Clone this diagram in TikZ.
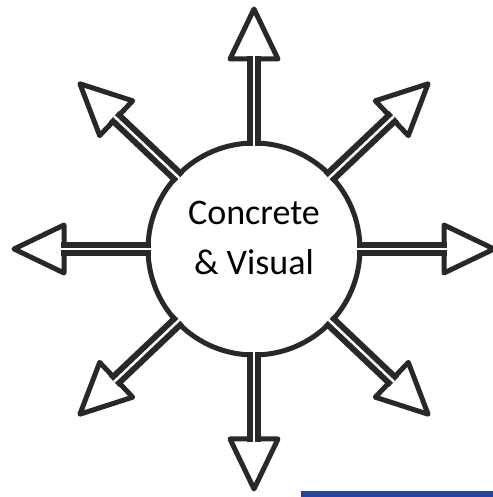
\documentclass[tikz,border=0pt]{standalone}
\usepackage{fontspec}
\setmainfont{Carlito}
\usetikzlibrary{calc}
\definecolor{barblue}{RGB}{35,68,158}
\definecolor{inkgray}{RGB}{40,40,40}

\begin{document}
\begin{tikzpicture}[x=0.02cm,y=0.02cm,
        hubcircle/.style={circle,draw=inkgray,line width=0.1cm,minimum size=4.24cm,
                          inner sep=0pt,outer sep=0pt},
        headline/.style={draw=inkgray,fill=white,line width=0.1cm,line join=round},
        shaftline/.style={draw=inkgray,line width=0.12cm,double,double distance=0.05cm,
                          shorten <=-0.06cm}]
  \useasboundingbox (0,0) rectangle (493,497);
  \node[hubcircle] (hub) at (254,248) {};
  \node[font=\fontsize{20.5}{28}\selectfont,align=center] (txt) at (254,259)
    {Concrete\\\& Visual};
  \foreach \a/\n in {0/e,43.5/ne,90/n,136.5/nw,180/w,223.5/sw,270/s,316.5/se} {
    \coordinate (tip\n) at ($(hub)+(\a:240)$);
    \coordinate (base\n) at ($(hub)+(\a:193)$);
    \coordinate (left\n) at ($(hub)+(\a:190)+(\a+90:24)$);
    \coordinate (right\n) at ($(hub)+(\a:190)+(\a-90:24)$);
    \draw[headline] (tip\n) -- (left\n) -- (right\n) -- cycle;
    \draw[shaftline] (hub) -- (base\n);
  }
  \fill[barblue] (301,0) rectangle (493,6);
\end{tikzpicture}
\end{document}
